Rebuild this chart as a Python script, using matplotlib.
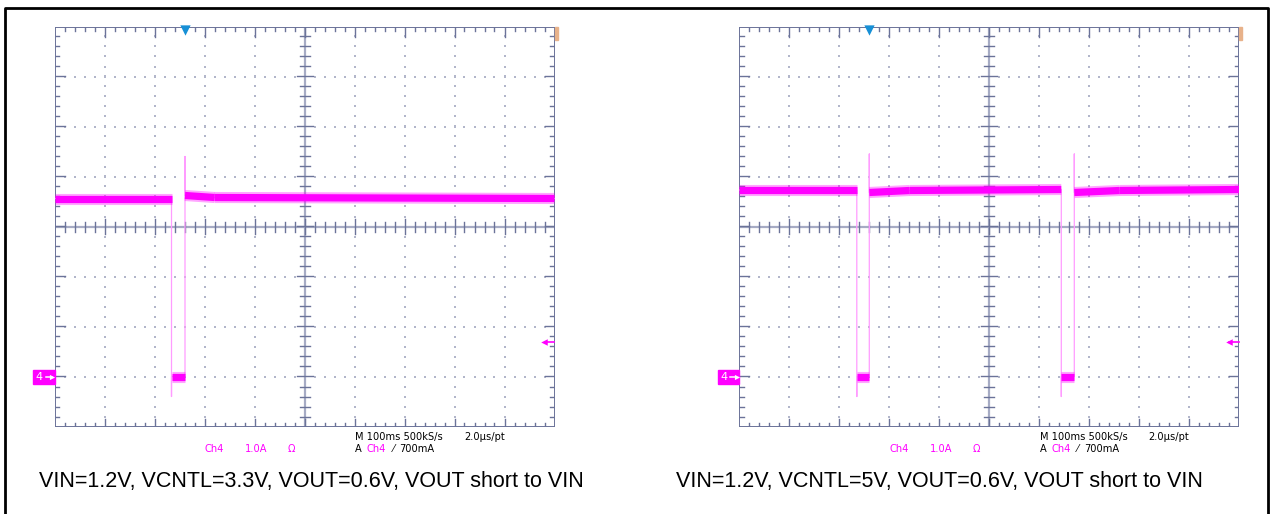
import matplotlib
matplotlib.use('Agg')
import matplotlib.pyplot as plt
from matplotlib.lines import Line2D
import numpy as np

plt.rcParams['font.family'] = ['Liberation Sans', 'DejaVu Sans']

# scope traces: time in divisions (10 div screen), current in A (Ch4, 1.0 A/div)
left_time = [0.00, 2.34, 2.34, 2.34, 2.61, 2.61, 2.61, 3.20, 10.00]
left_amps = [3.56, 3.56, -0.40, 0.00, 0.00, 4.40, 3.62, 3.58, 3.56]

right_time = [0.00, 2.35, 2.35, 2.35, 2.60, 2.60, 2.60, 3.40, 6.44,
              6.44, 6.44, 6.70, 6.70, 6.70, 7.60, 10.00]
right_amps = [3.73, 3.73, -0.40, 0.00, 0.00, 4.45, 3.68, 3.72, 3.74,
              -0.40, 0.00, 0.00, 4.45, 3.68, 3.72, 3.74]

captions = ["VIN=1.2V, VCNTL=3.3V, VOUT=0.6V, VOUT short to VIN",
            "VIN=1.2V, VCNTL=5V, VOUT=0.6V, VOUT short to VIN"]

ch_label = "Ch4"
ch_scale = "1.0A"
time_base = "M 100ms 500kS/s"
sample = "2.0\u03bcs/pt"
trig_text = "700mA"
trig_pos = 2.6       # div
trig_level = 0.7     # A
ground = -3          # div where 0 A sits

W, H = 1271, 514
MAG = '#ff00ff'
EDGE = '#6b7399'
SCOPE_FONT = ['DejaVu Sans']

fig = plt.figure(figsize=(W / 100, H / 100), dpi=100)
fig.patch.set_facecolor('white')


def graticule(ax):
    ax.set_xlim(0, 10)
    ax.set_ylim(-4, 4)
    ax.axis('off')
    # dotted grid
    xs, ys = [], []
    for gx in range(1, 10):
        if gx == 5:
            continue
        for v in np.arange(0.2, 8.0, 0.2):
            xs.append(gx)
            ys.append(-4 + v)
    for gy in range(-3, 4):
        if gy == 0:
            continue
        for v in np.arange(0.2, 10.0, 0.2):
            xs.append(v)
            ys.append(gy)
    ax.scatter(xs, ys, s=1.0, marker='s', color='#b2b6ca', linewidths=0, zorder=1)
    # center cross
    ax.plot([5, 5], [-4, 4], color='#a6abc4', lw=1.6, zorder=2)
    ax.plot([0, 10], [0, 0], color='#a6abc4', lw=1.6, zorder=2)
    for v in np.arange(0.2, 10.0, 0.2):
        big = abs(v - round(v)) < 1e-6
        d = 0.15 if big else 0.1
        ax.plot([v, v], [-d, d], color=EDGE, lw=1, zorder=2)
    for v in np.arange(-3.8, 4.0, 0.2):
        big = abs(v - round(v)) < 1e-6
        d = 0.16 if big else 0.1
        ax.plot([5 - d, 5 + d], [v, v], color=EDGE, lw=1, zorder=2)
    # frame and edge ticks
    ax.plot([0, 10, 10, 0, 0], [-4, -4, 4, 4, -4], color=EDGE, lw=1.4, zorder=3)
    for v in np.arange(0.2, 10.0, 0.2):
        big = abs(v - round(v)) < 1e-6
        ax.plot([v, v], [4, 4 - (0.2 if big else 0.09)], color=EDGE, lw=1, zorder=3)
        ax.plot([v, v], [-4, -4 + (0.15 if big else 0.07)], color=EDGE, lw=1, zorder=3)
    for v in np.arange(-3.8, 4.0, 0.2):
        big = abs(v - round(v)) < 1e-6
        ax.plot([0, 0.2 if big else 0.09], [v, v], color=EDGE, lw=1, zorder=3)
        ax.plot([10, 10 - (0.2 if big else 0.09)], [v, v], color=EDGE, lw=1, zorder=3)


def trace(ax, t, a):
    y = [ground + v for v in a]
    ax.plot(t, y, color='#ff9cff', lw=0.9, zorder=4)
    for i in range(len(t) - 1):
        if t[i + 1] > t[i]:
            ax.plot(t[i:i + 2], y[i:i + 2], color=MAG, lw=8.0, alpha=0.35,
                    solid_capstyle='butt', zorder=5)
            ax.plot(t[i:i + 2], y[i:i + 2], color=MAG, lw=5.2,
                    solid_capstyle='butt', zorder=6)


def decorations(ax):
    # trigger position marker
    ax.scatter([trig_pos], [3.93], marker='v', s=55, color='#1790d6',
               linewidths=0, clip_on=False, zorder=7)
    # orange marker top right
    ax.add_patch(plt.Rectangle((10.0, 3.74), 0.06, 0.26, color='#e8b28a',
                               clip_on=False, zorder=7))
    # trigger level arrow
    ly = ground + trig_level
    ax.plot([9.80, 9.99], [ly, ly], color=MAG, lw=1.2, clip_on=False, zorder=7)
    ax.scatter([9.79], [ly], marker='<', s=22, color=MAG, linewidths=0,
               clip_on=False, zorder=7)
    # channel 4 ground marker
    ax.add_patch(plt.Rectangle((-0.43, ground - 0.14), 0.43, 0.28, color=MAG,
                               clip_on=False, zorder=7))
    ax.text(-0.30, ground - 0.02, '4', color='white', fontsize=8, ha='center',
            va='center', family=SCOPE_FONT, clip_on=False, zorder=8)
    ax.plot([-0.18, -0.06], [ground, ground], color='white', lw=1.1,
            clip_on=False, zorder=8)
    ax.scatter([-0.05], [ground], marker='>', s=14, color='white', linewidths=0,
               clip_on=False, zorder=8)
    # readouts
    kw = dict(fontsize=7.1, va='center', family=SCOPE_FONT, clip_on=False)
    ax.text(3.0, -4.45, ch_label, color=MAG, **kw)
    ax.text(3.81, -4.45, ch_scale, color=MAG, **kw)
    ax.text(4.67, -4.45, '\u03a9', color=MAG, **kw)
    ax.text(6.01, -4.21, time_base, color='black', **kw)
    ax.text(8.19, -4.21, sample, color='black', **kw)
    ax.text(6.01, -4.45, 'A', color='black', **kw)
    ax.text(6.24, -4.45, ch_label, color=MAG, **kw)
    ax.text(6.76, -4.45, '\u2044', color='black', **kw)
    ax.text(6.89, -4.45, trig_text, color='black', **kw)


lefts = [54.5, 739.3]
series = [(left_time, left_amps), (right_time, right_amps)]
cap_x = [39, 676]
for left, (t, a), cap, cx in zip(lefts, series, captions, cap_x):
    ax = fig.add_axes([left / W, (H - 426.5) / H, 500 / W, 400 / H])
    graticule(ax)
    trace(ax, t, a)
    decorations(ax)
    fig.text(cx / W, 1 - 482 / H, cap, fontsize=15.5, ha='left', va='center')

# outer frame (bottom edge is cut off)
fig.add_artist(Line2D([4.8 / W, 4.8 / W, 1267.5 / W, 1267.5 / W],
                      [0, 1 - 7.5 / H, 1 - 7.5 / H, 0],
                      transform=fig.transFigure, color='black', lw=2))

fig.savefig('out.png', dpi=100, facecolor='white')
